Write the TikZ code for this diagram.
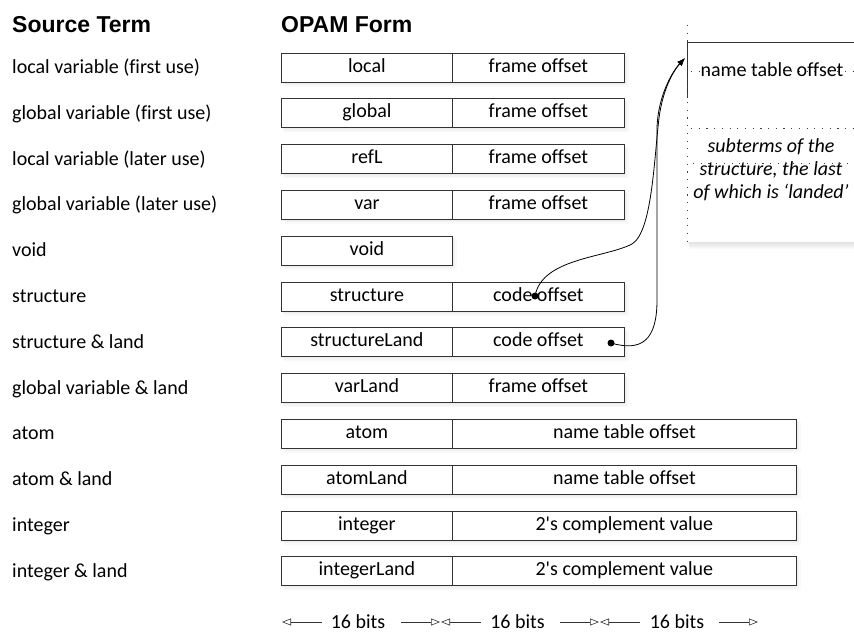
\documentclass[tikz,border=0pt]{standalone}
\usepackage{fontspec}
\setmainfont{Carlito}[Ligatures={TeX,NoCommon}]
\newfontfamily\headfont{Liberation Sans}
\usetikzlibrary{arrows.meta}

\newcommand{\bodyfont}{\fontsize{20}{23}\selectfont}
\newcommand{\headsize}{\headfont\bfseries\fontsize{23}{26}\selectfont}

\tikzset{
  boxline/.style={draw=black!80, line width=0.8pt},
  cell/.style={boxline, fill=white, anchor=west, minimum height=29pt,
    inner sep=0pt, text height=12pt, text depth=3pt, font=\bodyfont},
  shortcell/.style={cell, minimum width=172pt},
  longcell/.style={cell, minimum width=344pt},
  opcell/.style={cell, minimum width=171pt},
  termlabel/.style={anchor=base west, inner sep=0pt, font=\bodyfont},
  heading/.style={anchor=base west, inner sep=0pt, font=\headsize},
  softshade/.style={black, opacity=0.025},
  dotline/.style={black!75, line width=0.7pt, dash pattern=on 1.2pt off 6.5pt},
  ptr/.style={black, line width=0.8pt},
  ptrdot/.style={fill=black, circle, inner sep=0pt, minimum size=7pt},
  widtharrow/.style={black!80, line width=0.6pt,
    {Triangle[open, length=9pt, width=7pt]}-},
  bitslabel/.style={anchor=base, inner sep=0pt, font=\bodyfont}
}

\begin{document}
\begin{tikzpicture}[x=1pt, y=-1pt]
\useasboundingbox (0,0) rectangle (854,635);
\fill[white] (0,0) rectangle (854,635);

% column headings
\node[heading] (hsrc) at (12,32) {Source Term};
\node[heading] (hopam) at (281,32) {OPAM Form};

% ---- rows: source term on the left, encoded cells on the right ----
\def\rowy#1{67.5+45.8*#1}

\foreach \i/\term/\op/\arg/\kind/\rx in {
  0/local variable (first use)/local/frame offset/shortcell/624,
  1/global variable (first use)/global/frame offset/shortcell/624,
  2/local variable (later use)/refL/frame offset/shortcell/624,
  3/global variable (later use)/var/frame offset/shortcell/624,
  5/structure/structure/code offset/shortcell/624,
  6/structure \& land/structureLand/code offset/shortcell/624,
  7/global variable \& land/varLand/frame offset/shortcell/624,
  8/atom/atom/name table offset/longcell/796,
  9/atom \& land/atomLand/name table offset/longcell/796,
  10/integer/integer/2\textquotesingle s complement value/longcell/796,
  11/integer \& land/integerLand/2\textquotesingle s complement value/longcell/796}{
  \foreach \s in {1,2,3}{
    \fill[softshade] ({281+\s},{\rowy{\i}-14.5+\s}) rectangle ({\rx+1.5*\s},{\rowy{\i}+14.5+1.5*\s});
  }
  \node[termlabel] (term\i) at (12,{\rowy{\i}+6}) {\term};
  \node[opcell] (op\i) at (281,{\rowy{\i}}) {\op};
  \node[\kind] (arg\i) at (452,{\rowy{\i}}) {\arg};
}
% the void term has no argument cell
\foreach \s in {1,2,3}{
  \fill[softshade] ({281+\s},{\rowy{4}-14.5+\s}) rectangle ({452+1.5*\s},{\rowy{4}+14.5+1.5*\s});
}
\node[termlabel] (term4) at (12,{\rowy{4}+6}) {void};
\node[opcell] (op4) at (281,{\rowy{4}}) {void};

% ---- heap structure shown on the right ----
% soft shadow under the heap block
\foreach \s in {1,2,...,6}{
  \fill[black, opacity=0.02] ({687+\s*0.4},{42+\s*0.6}) rectangle (880,{242+\s*1.2});
}
\fill[white] (687,42) rectangle (880,242);
\draw[boxline] (687,42) -- (854,42);
\draw[boxline] (687,42) -- (687,98);
\draw[dotline] (687,25) -- (687,242);

\node[inner sep=0pt, font=\bodyfont] (nto) at (772,70) {name table offset};
\draw[dotline] (691,71) -- (854,71);
\draw[dotline] (691,128) -- (854,128);
\node[inner sep=0pt, align=center, font=\bodyfont\itshape] (subterms)
  at (771,170) {subterms of the\\structure, the last\\of which is `landed'};
\draw[dotline] (693,163) -- (854,163);

% ---- pointers from the code offsets into the heap ----
\coordinate (target) at (685,58);
\node[ptrdot] (sdot) at (535,296) {};
\node[ptrdot] (sldot) at (611,343) {};

\draw[ptr, -{Latex[length=8pt, width=6pt]}] (sdot.center)
  .. controls (542,258) and (605,258) .. (632,244)
  .. controls (652,232) and (654,160) .. (659,118)
  .. controls (663,88) and (674,70) .. (target);
\draw[ptr, -{Latex[length=8pt, width=6pt]}] (sldot.center)
  .. controls (642,352) and (657,340) .. (657,300)
  -- (657,128)
  .. controls (658,96) and (672,72) .. (target);

% ---- field widths ----
\foreach \k in {0,1,2}{
  \coordinate (wl\k) at ({282+159*\k},622);
  \coordinate (wr\k) at ({440+159*\k},622);
  \node[bitslabel] (bits\k) at ({358+159.5*\k},628) {16 bits};
  \draw[widtharrow] (wl\k) -- ++(40,0);
  \draw[widtharrow] (wr\k) -- ++(-39,0);
}
\end{tikzpicture}
\end{document}
